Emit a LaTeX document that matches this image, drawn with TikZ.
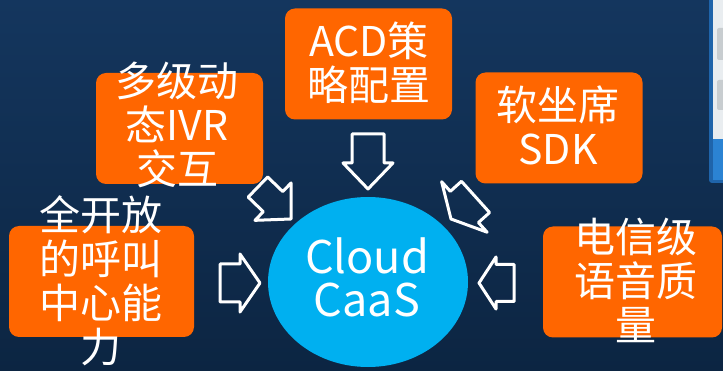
\documentclass[tikz,border=0pt]{standalone}
\usepackage{fontspec}
\setmainfont{Noto Sans CJK SC}
\usepackage{tikz}
\usetikzlibrary{shapes.geometric}
\definecolor{slidetop}{RGB}{20,54,94}
\definecolor{slidebottom}{RGB}{12,37,66}
\definecolor{boxorange}{RGB}{255,102,0}
\definecolor{cloudblue}{RGB}{0,176,240}
\definecolor{panelgrey}{RGB}{233,237,240}
\definecolor{panelkey}{RGB}{200,205,208}
\definecolor{panelblue}{RGB}{43,131,211}
\definecolor{paneledge}{RGB}{31,100,170}
\tikzset{
  featbox/.style={rectangle, rounded corners=10pt, fill=boxorange, minimum width=167pt, minimum height=111pt, inner sep=0pt},
  feattext/.style={text=white, align=center, font=\fontsize{41}{44}\selectfont, inner sep=0pt},
  hollow/.style={draw=white, line width=3pt, line join=round}
}
% block arrow: tip, angle, length, shaft width, head width, head length
\newcommand{\blockarrow}[6]{%
  \begin{scope}[shift={#1}, rotate=#2]
    \draw[hollow] (0,0) -- (-#6,#5/2) -- (-#6,#4/2) -- (-#3,#4/2) -- (-#3,-#4/2) -- (-#6,-#4/2) -- (-#6,-#5/2) -- cycle;
  \end{scope}}

\begin{document}
\begin{tikzpicture}[x=1pt, y=-1pt]
  \useasboundingbox (0,0) rectangle (723,371);
  \fill[top color=slidetop, bottom color=slidebottom] (0,0) rectangle (723,371);
  % strip of a window at the right
  \fill[paneledge, rounded corners=3pt] (709,-6) rectangle (726,183);
  \fill[panelgrey] (713,0) rectangle (723,139);
  \fill[panelblue] (713,139) rectangle (723,180);
  \fill[panelkey, rounded corners=2pt] (717,28) rectangle (726,60);
  \fill[panelkey, rounded corners=2pt] (717,80) rectangle (726,110);

  % boxes
  \node[featbox] (acd) at (368.5,64) {};
  \node[featbox] (ivr) at (179.5,128.5) {};
  \node[featbox] (sdk) at (559,128) {};
  \node[featbox, minimum width=185pt] (open) at (101.5,281.5) {};
  \node[featbox, minimum width=179pt] (voice) at (632.5,282) {};

  \node[feattext] (acdtext) at (369,63) {ACD策\\略配置};
  \node[feattext] (ivrtext) at (177,125) {多级动\\态IVR\\交互};
  \node[feattext] (sdktext) at (558,125) {软坐席\\SDK};
  \node[feattext] (opentext) at (101,281) {全开放\\的呼叫\\中心能\\力};
  \node[feattext] (voicetext) at (636,280) {电信级\\语音质\\量};

  % centre
  \node[ellipse, fill=cloudblue, minimum width=200pt, minimum height=170pt, inner sep=0pt] (cloud) at (368,282) {};
  \node[text=white, align=center, font=\fontsize{45}{43}\selectfont, inner sep=0pt] (cloudtext) at (367,277) {Cloud\\CaaS};

  % arrows
  \coordinate (tiptop) at (368,189);
  \coordinate (tipleft) at (260,283);
  \coordinate (tipright) at (479,283);
  \coordinate (tipul) at (291,219);
  \coordinate (tipur) at (451,219);
  \blockarrow{(tiptop)}{-90}{55}{32}{50}{26}
  \blockarrow{(tipleft)}{0}{40}{38}{58}{20}
  \blockarrow{(tipright)}{180}{35}{37}{52}{17}
  \blockarrow{(tipul)}{-44}{46}{28}{52}{25}
  \blockarrow{(tipur)}{-138}{33}{42}{68}{18}
\end{tikzpicture}
\end{document}
